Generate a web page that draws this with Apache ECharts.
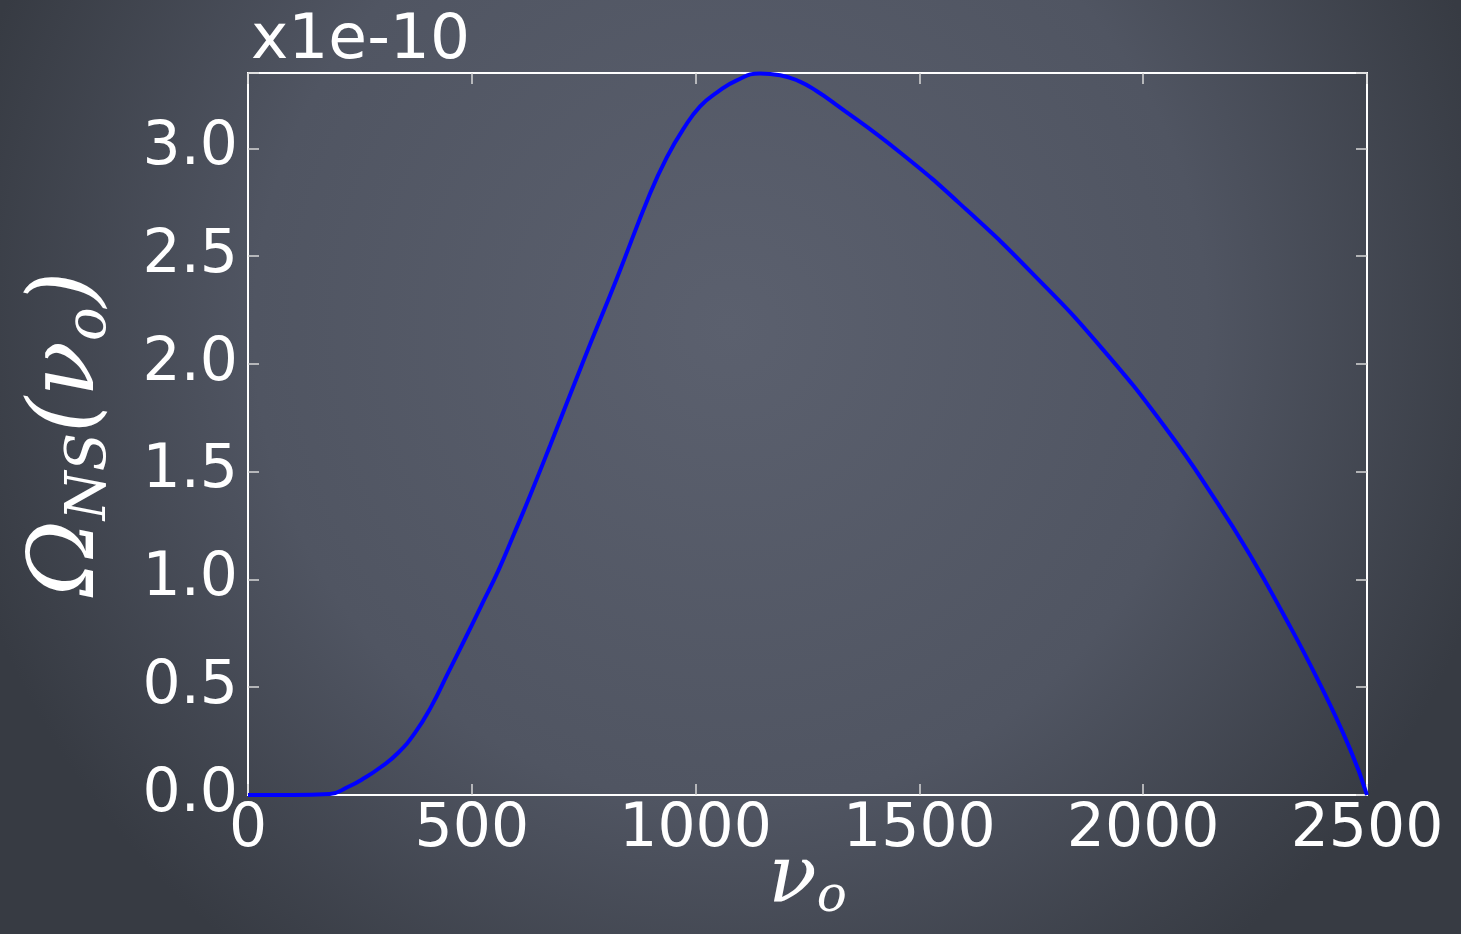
<!DOCTYPE html>
<html>
<head>
<meta charset="utf-8">
<title>Omega NS</title>
<script src="https://cdn.jsdelivr.net/npm/echarts@6/dist/echarts.min.js"></script>
<style>
    html, body { margin: 0; padding: 0; background: #454a56; }
    #main { width: 1461px; height: 934px; }
</style>
</head>
<body>
<div id="main"></div>
<script>
// frequency nu_o (x) and Omega_NS (y, in units of 1e-10)
var freq  = [0, 100, 183, 223, 261, 297, 335, 373, 409, 447, 485, 521, 559, 594, 630, 675, 748, 824, 898, 936,
             972, 1010, 1048, 1092, 1144, 1189, 1233, 1271, 1307, 1457, 1606, 1754, 1903, 2053, 2165, 2239,
             2312, 2388, 2462, 2500];
var omega = [0, 0, 0.005, 0.037, 0.080, 0.130, 0.195, 0.288, 0.409, 0.567, 0.725, 0.878, 1.040, 1.210, 1.389, 1.622, 2.007, 2.397, 2.790, 2.960,
             3.088, 3.195, 3.26, 3.316, 3.348, 3.34, 3.31, 3.265, 3.214, 2.981, 2.714, 2.417, 2.084, 1.695, 1.358, 1.112,
             0.843, 0.543, 0.214, 0];
var xTicks = [0, 500, 1000, 1500, 2000, 2500];
var yTicks = [0, 0.5, 1.0, 1.5, 2.0, 2.5, 3.0];

var curve = freq.map(function (f, i) { return [f, omega[i]]; });

var chart = echarts.init(document.getElementById('main'));

function labelFont(extra) {
    return Object.assign({color: '#ffffff', fontFamily: 'DejaVu Sans', fontSize: 60}, extra);
}
function ticks() {
    return {show: true, inside: true, length: 11, lineStyle: {color: '#d8d8d8', width: 1.5}};
}
// onZero off, otherwise the top/right axes jump onto the zero line
function frame() {
    return {show: true, onZero: false, lineStyle: {color: '#ffffff', width: 2}};
}
function isTick(list, v) {
    return list.some(function (t) { return Math.abs(t - v) < 1e-6; });
}

var option = {
    backgroundColor: {
        type: 'radial', x: 0.5, y: 0.35, r: 0.85,
        colorStops: [
            {offset: 0, color: '#5b606e'},
            {offset: 0.6, color: '#505562'},
            {offset: 1, color: '#373b43'}
        ]
    },
    animation: false,
    title: {
        text: 'x1e-10',
        left: 246,
        top: 5,
        textStyle: {color: '#ffffff', fontFamily: 'DejaVu Sans', fontSize: 63, fontWeight: 'normal'}
    },
    grid: {
        left: 248, right: 94, top: 73, bottom: 139,
        containLabel: false,
        outerBoundsMode: 'none',
        show: true,
        borderColor: '#ffffff',
        borderWidth: 2,
        backgroundColor: 'transparent'
    },
    xAxis: [
        {
            type: 'value',
            min: 0, max: 2500, interval: 500,
            position: 'bottom',
            axisLine: frame(),
            axisTick: ticks(),
            splitLine: {show: false},
            axisLabel: labelFont({margin: 5, formatter: function (v) {
                return isTick(xTicks, v) ? String(v) : '';
            }}),
            name: '{a|ν}{b|o}',
            nameLocation: 'middle',
            nameGap: 44,
            nameMoveOverlap: false,
            nameTextStyle: {
                rich: {
                    a: {fontFamily: 'DejaVu Serif', fontStyle: 'italic', fontSize: 80, color: '#ffffff', lineHeight: 84},
                    b: {fontFamily: 'DejaVu Serif', fontStyle: 'italic', fontSize: 50, color: '#ffffff', verticalAlign: 'bottom'}
                }
            }
        },
        {
            type: 'value',
            min: 0, max: 2500, interval: 500,
            position: 'top',
            axisLine: frame(),
            axisTick: ticks(),
            axisLabel: {show: false},
            splitLine: {show: false}
        }
    ],
    yAxis: [
        {
            type: 'value',
            min: 0, max: 3.35, interval: 0.5,
            position: 'left',
            axisLine: frame(),
            axisTick: ticks(),
            splitLine: {show: false},
            axisLabel: labelFont({margin: 10, formatter: function (v) {
                return isTick(yTicks, v) ? v.toFixed(1) : '';
            }}),
            name: '{a|Ω}{b|NS}{a|(ν}{b|o}{a|)}',
            nameLocation: 'middle',
            nameRotate: 90,
            nameGap: 130,
            nameTextStyle: {
                rich: {
                    a: {fontFamily: 'DejaVu Serif', fontStyle: 'italic', fontSize: 92, color: '#ffffff', lineHeight: 98},
                    b: {fontFamily: 'DejaVu Serif', fontStyle: 'italic', fontSize: 56, color: '#ffffff', verticalAlign: 'bottom'}
                }
            }
        },
        {
            type: 'value',
            min: 0, max: 3.35, interval: 0.5,
            position: 'right',
            axisLine: frame(),
            axisTick: ticks(),
            axisLabel: {show: false},
            splitLine: {show: false}
        }
    ],
    series: [
        {
            name: 'Omega_NS',
            type: 'line',
            data: curve,
            smooth: 0.5,
            showSymbol: false,
            symbol: 'none',
            lineStyle: {color: '#0000ff', width: 4},
            z: 5
        }
    ]
};

chart.setOption(option);
window.onresize = chart.resize;
</script>
</body>
</html>
